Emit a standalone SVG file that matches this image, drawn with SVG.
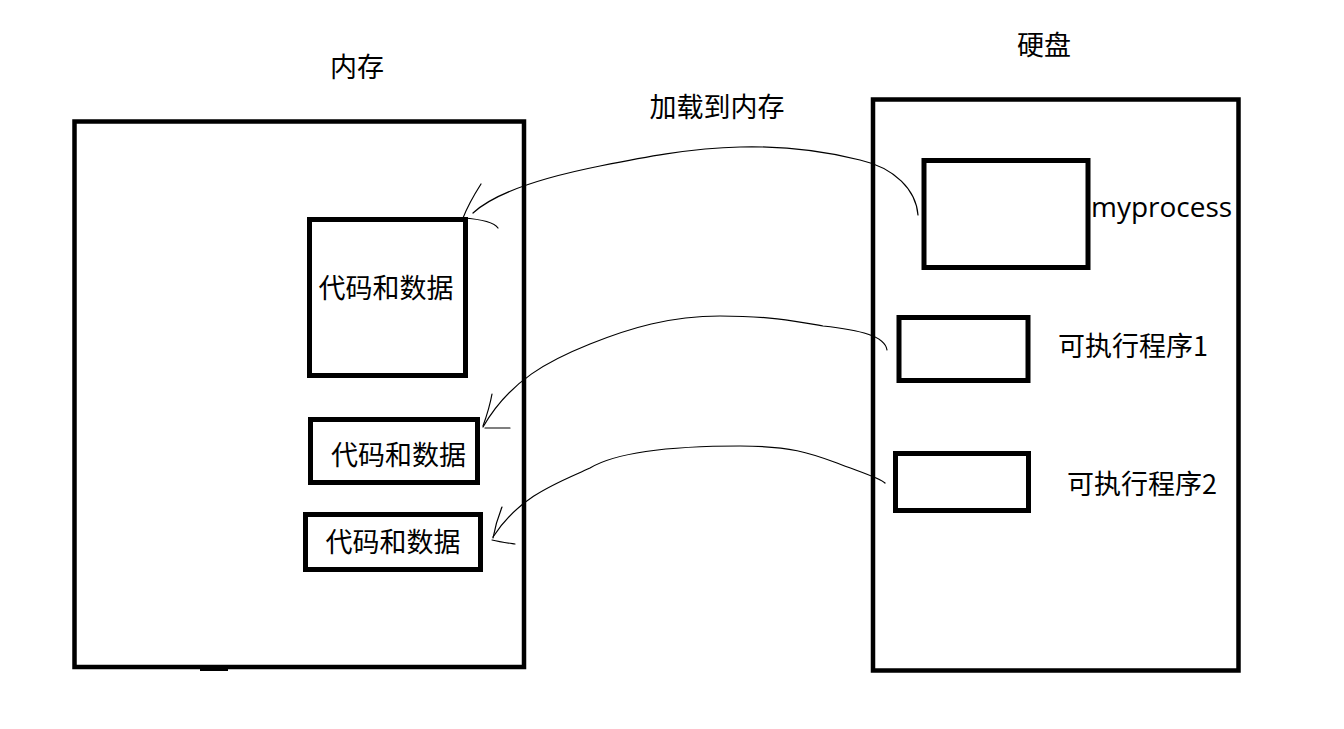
<svg xmlns="http://www.w3.org/2000/svg" width="1344" height="729" viewBox="0 0 1344 729">
<style>
.box{fill:none;stroke:#000;stroke-width:5}
.big{fill:none;stroke:#000;stroke-width:4.5}
.t{font-family:"Noto Sans CJK SC","Microsoft YaHei",sans-serif;font-size:27px;fill:#000;text-anchor:middle;dominant-baseline:central}
.lat{font-family:"Open Sans","Noto Sans",sans-serif;font-size:28px;fill:#000}
.c{fill:none;stroke:#000;stroke-width:1.2;stroke-linecap:round}
</style>
<rect width="1344" height="729" fill="#fff"/>
<g id="memory">
<rect class="big" x="74.5" y="121.5" width="449.5" height="545.5"/>
<line x1="200" y1="669.5" x2="228" y2="669.5" stroke="#000" stroke-width="3"/>
<text class="t" x="357" y="65">内存</text>
</g>
<g id="disk">
<rect class="big" x="873" y="99.5" width="365.5" height="571"/>
<text class="t" x="1044" y="43">硬盘</text>
</g>
<g id="load-label"><text class="t" x="717" y="105">加载到内存</text></g>
<g id="mem-block1">
<rect class="box" x="309.5" y="219.5" width="156" height="156"/>
<text class="t" x="386" y="286">代码和数据</text>
</g>
<g id="mem-block2">
<rect class="box" x="310.5" y="419.5" width="167" height="63"/>
<text class="t" x="398.5" y="453">代码和数据</text>
</g>
<g id="mem-block3">
<rect class="box" x="305.5" y="514.5" width="175" height="55"/>
<text class="t" x="393" y="540">代码和数据</text>
</g>
<g id="myprocess">
<rect class="box" x="924" y="160.5" width="164" height="107"/>
<text class="lat" x="1091" y="217">myprocess</text>
</g>
<g id="exe1">
<rect class="box" x="899" y="317.5" width="129" height="63"/>
<text class="t" x="1133" y="344">可执行程序1</text>
</g>
<g id="exe2">
<rect class="box" x="895.5" y="453.5" width="133" height="57"/>
<text class="t" x="1142" y="482">可执行程序2</text>
</g>
<g id="connectors">
<path class="c" d="M918,215 C916,190 895,168 860,160 C820,150 780,146 740,147 C690,148 640,158 600,166 C560,174 500,188 473,213"/>
<path class="c" d="M481,184 C474,195 468,205 463,218 M463,218 C478,219 494,222 498,228"/>
<path class="c" d="M887,350 C885,336 860,330 823,326 C795,321 770,316 720,316 C670,316 630,328 590,344 C550,360 510,380 483,427"/>
<path class="c" d="M492,394 C490,405 487,415 483,426 M485,428 L510,428"/>
<path class="c" d="M885,483 C880,478 860,472 837,463 C810,453 790,446 740,446 C680,446 620,450 590,468 C560,482 520,495 493,537"/>
<path class="c" d="M502,507 C498,517 495,527 493,538 M492,540 C500,542 508,543 515,544"/>
</g>
</svg>
